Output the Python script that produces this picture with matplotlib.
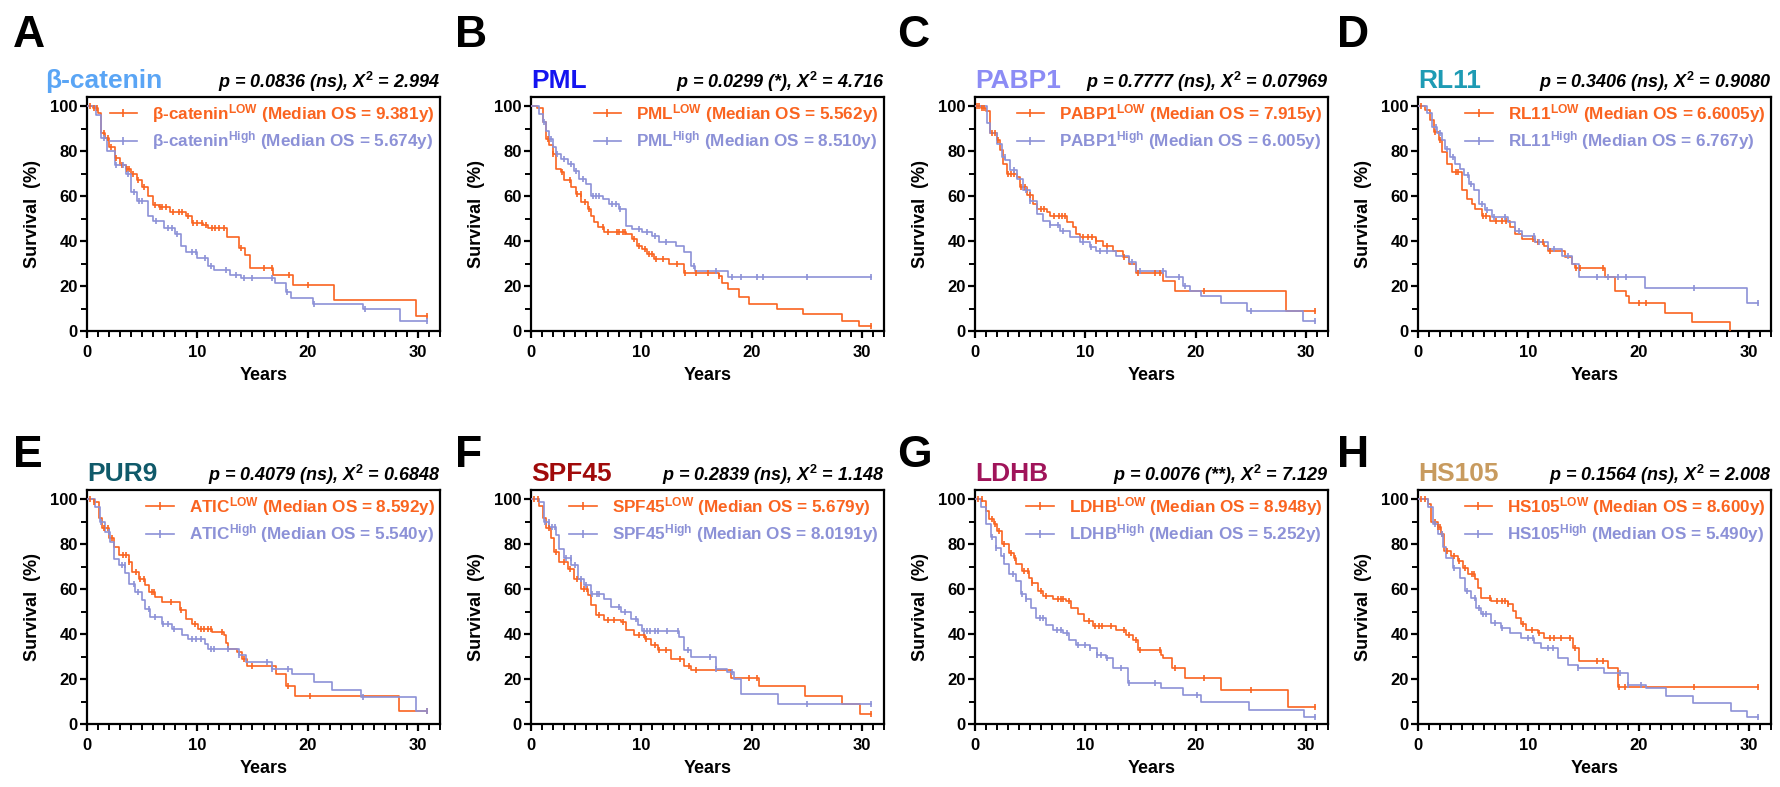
import matplotlib
matplotlib.use('Agg')
import matplotlib.pyplot as plt
import numpy as np
from matplotlib.lines import Line2D
from matplotlib.ticker import MultipleLocator

plt.rcParams['font.family'] = ['Liberation Sans', 'DejaVu Sans']
plt.rcParams['font.weight'] = 'bold'
plt.rcParams['axes.labelweight'] = 'bold'
plt.rcParams['mathtext.fontset'] = 'custom'
plt.rcParams['mathtext.rm'] = 'Liberation Sans:bold'
plt.rcParams['mathtext.bf'] = 'Liberation Sans:bold'
plt.rcParams['mathtext.it'] = 'Liberation Sans:bold:italic'

# ---------------- data ----------------
letters = ["A", "B", "C", "D", "E", "F", "G", "H"]
genes = ["β-catenin", "PML", "PABP1", "RL11", "PUR9", "SPF45", "LDHB", "HS105"]
legend_names = ["β-catenin", "PML", "PABP1", "RL11", "ATIC", "SPF45", "LDHB", "HS105"]
median_low = ["9.381", "5.562", "7.915", "6.6005", "8.592", "5.679", "8.948", "8.600"]
median_high = ["5.674", "8.510", "6.005", "6.767", "5.540", "8.0191", "5.252", "5.490"]
p_values = ["0.0836", "0.0299", "0.7777", "0.3406", "0.4079", "0.2839", "0.0076", "0.1564"]
p_signif = ["ns", "*", "ns", "ns", "ns", "ns", "**", "ns"]
chi2_values = ["2.994", "4.716", "0.07969", "0.9080", "0.6848", "1.148", "7.129", "2.008"]
end_low = [30.8, 30.8, 30.8, 28.3, 30.8, 30.8, 30.8, 30.8]
end_high = [30.8, 30.8, 30.8, 30.8, 30.8, 30.8, 30.8, 30.8]

A_low_t = [0, 0.5, 1.0, 1.3, 1.6, 2.0, 2.5, 3.0, 3.5, 4.0, 4.5, 5.0, 5.5, 6.0, 6.5, 7.5, 9.0, 9.5, 10.5, 11.0, 12.7, 13.8, 14.3, 14.8, 16.9, 18.7, 22.4, 29.8]
A_low_s = [100, 99, 97, 88, 86, 82, 77, 74, 72, 70, 67, 64, 60, 56, 55, 53, 51, 48, 47, 46, 42, 37, 34, 28, 25, 20.5, 13.6, 6.8]
A_high_t = [0, 0.8, 1.3, 1.8, 2.5, 3.5, 4.0, 4.5, 5.5, 6.0, 7.0, 8.0, 8.5, 9.0, 10.0, 11.0, 11.5, 13.0, 14.0, 17.0, 18.0, 18.5, 20.5, 25.0, 28.4]
A_high_s = [100, 96, 86, 80, 74, 70, 62, 58, 51, 49, 46, 43, 38, 35, 32.6, 29, 27, 25, 23.4, 21.2, 17.5, 14.5, 12, 9.6, 4.6]
A_low_c = [0.3, 0.6, 0.9, 1.5, 1.9, 2.2, 2.6, 3.2, 3.6, 3.8, 4.2, 4.6, 5.2, 6.2, 6.6, 6.8, 7.2, 7.8, 8.3, 8.6, 9.2, 9.6, 10.0, 10.4, 10.8, 11.3, 11.6, 12.0, 12.4, 14.0, 16.0, 16.8, 18.3, 20.0, 30.8]
A_high_c = [1.5, 2.6, 3.3, 3.7, 4.3, 4.7, 5.0, 6.3, 7.3, 7.7, 8.2, 9.5, 9.9, 10.7, 11.2, 12.6, 13.5, 14.2, 15.0, 16.8, 18.1, 20.6, 25.2, 30.8]

B_low_t = [0, 0.5, 1.06, 1.36, 1.66, 1.96, 2.26, 2.71, 3.02, 3.62, 4.07, 4.52, 5.13, 5.43, 5.73, 6.03, 6.63, 8.6, 9.2, 9.65, 10.1, 10.56, 11.16, 12.5, 13.9, 17.0, 17.3, 17.9, 18.85, 19.76, 22.3, 24.7, 28.2, 29.7]
B_low_s = [100, 99, 92.9, 85.4, 82.5, 78.8, 72.1, 70.6, 66.9, 63.9, 60.9, 57.2, 54.2, 51.3, 48.3, 46.1, 44, 43, 40.9, 37.9, 36.4, 34.2, 31.9, 29.7, 26, 24.5, 21.5, 18.6, 14.9, 11.9, 9.7, 7.4, 4.5, 2.2]
B_high_t = [0, 0.75, 1.06, 1.36, 1.66, 1.96, 2.26, 2.71, 3.32, 3.92, 4.37, 4.98, 5.43, 6.49, 7.09, 7.99, 8.6, 9.2, 10.1, 11.0, 11.6, 13.1, 13.9, 14.5, 14.9, 17.9]
B_high_s = [100, 96.6, 92.9, 89.1, 85.4, 81.7, 78.8, 76.5, 74.3, 71.3, 67.6, 65.4, 60.2, 58.7, 56.5, 54.2, 46.8, 45.3, 43.8, 42.3, 39.4, 37.9, 34.9, 29, 26.7, 23.8]
B_low_c = [1.5, 2.0, 2.8, 3.5, 4.2, 4.5, 4.9, 5.3, 6.5, 7.0, 7.8, 8.0, 8.3, 8.5, 9.3, 9.8, 10.3, 10.7, 11.0, 11.3, 12.0, 13.2, 14.0, 15.0, 16.0, 17.0, 30.8]
B_high_c = [1.2, 1.8, 2.4, 3.0, 3.6, 4.1, 4.7, 5.6, 5.9, 6.2, 7.3, 7.7, 8.1, 9.8, 10.5, 11.2, 12.2, 14.8, 16.8, 18.2, 19.0, 20.5, 21.0, 25.0, 30.8]

C_low_t = [0, 0.5, 1.0, 1.36, 1.96, 2.26, 2.56, 2.87, 3.77, 4.07, 4.68, 5.28, 5.58, 6.49, 6.79, 8.3, 8.9, 9.2, 9.5, 11.0, 11.6, 12.5, 13.4, 14.0, 14.6, 17.0, 18.1, 28.2]
C_low_s = [100, 99, 98, 87.8, 84.8, 80.4, 74.4, 69.9, 68.5, 64, 60.3, 56.5, 54.3, 52.8, 51.3, 48.5, 46.1, 43.2, 41.7, 40.2, 37.9, 35.7, 32.7, 29.8, 26, 22.3, 17.9, 8.9]
C_high_t = [0, 1.06, 1.36, 1.96, 2.41, 2.71, 3.17, 3.77, 4.37, 4.98, 5.58, 6.18, 6.79, 7.69, 8.6, 9.5, 10.4, 11.0, 12.8, 14.0, 14.6, 17.3, 18.85, 19.45, 20.5, 22.3, 24.7, 29.7]
C_high_s = [100, 92.3, 87.8, 83.3, 77.4, 75.9, 71.4, 67.7, 62.5, 58, 52.1, 49.1, 46.9, 44.6, 41.7, 39.4, 37.2, 35.7, 33.5, 30.5, 26.8, 23.8, 20.1, 17.9, 15.6, 12.6, 8.9, 4.5]
C_low_c = [0.2, 0.4, 0.6, 0.8, 1.5, 1.8, 2.1, 3.0, 3.3, 3.5, 4.2, 4.5, 5.0, 6.0, 6.3, 7.2, 7.6, 7.9, 8.2, 9.8, 10.2, 10.6, 11.0, 12.0, 13.5, 14.8, 16.3, 16.8, 20.8, 30.8]
C_high_c = [2.7, 3.5, 4.6, 5.0, 6.8, 7.5, 8.0, 9.8, 10.5, 11.3, 12.0, 14.2, 15.0, 17.0, 18.5, 19.0, 25.0, 30.8]

D_low_t = [0, 0.66, 1.12, 1.42, 1.87, 2.18, 2.63, 3.08, 3.99, 4.44, 4.89, 5.2, 5.8, 6.56, 8.37, 8.82, 9.43, 10.6, 11.4, 11.8, 13.35, 13.96, 14.26, 16.98, 17.9, 18.9, 19.1, 22.4, 24.8, 28.3]
D_low_s = [100, 98.2, 94, 88.5, 84.8, 79.6, 74.4, 70.7, 62.5, 58.8, 56.5, 54.3, 51.3, 49.1, 46.1, 43.2, 40.9, 39.4, 37.9, 35.7, 32.7, 29.8, 28, 23.8, 17.9, 15.6, 12.6, 8.2, 4.2, 0]
D_high_t = [0, 0.82, 1.27, 1.72, 2.18, 2.48, 2.93, 3.38, 3.84, 4.14, 4.59, 5.05, 5.5, 6.1, 6.7, 8.2, 8.8, 9.4, 10.6, 11.8, 13.05, 13.96, 14.56, 20.6, 29.8]
D_high_s = [100, 96.7, 90.8, 87.8, 84.8, 81.1, 77.4, 74.4, 72.2, 69.2, 65.5, 62.5, 56.5, 53.6, 50.6, 48.4, 44.6, 42.4, 39.4, 36.5, 33.5, 29.8, 23.8, 19, 12.6]
D_low_c = [0.3, 1.5, 2.0, 3.4, 3.6, 5.9, 6.2, 7.1, 7.6, 8.0, 10.4, 10.9, 11.3, 12.0, 14.3, 14.7, 16.8, 20.0, 20.7]
D_high_c = [1.6, 2.0, 2.6, 3.2, 4.5, 4.8, 5.8, 6.3, 6.9, 7.9, 9.2, 10.5, 11.0, 12.3, 13.6, 16.2, 17.2, 18.1, 18.9, 25.0, 30.8]

E_low_t = [0, 0.6, 1.06, 1.36, 1.97, 2.42, 2.87, 3.78, 4.08, 4.69, 5.3, 5.6, 6.2, 6.8, 8.47, 8.93, 9.53, 10.1, 11.35, 12.4, 12.6, 12.8, 13.6, 14.07, 14.5, 17.1, 18.0, 18.9, 28.3]
E_low_s = [100, 98.8, 91.4, 86.9, 82.5, 78.8, 75, 72, 67.6, 64.6, 61.7, 58.7, 56.5, 54.2, 50.5, 46.8, 44.6, 42.3, 40.9, 39.4, 36, 33.4, 31.9, 29, 26, 22.3, 17.1, 12.6, 5.9]
E_high_t = [0, 0.76, 1.21, 1.66, 2.12, 2.42, 2.87, 3.48, 3.78, 4.39, 4.99, 5.3, 5.75, 6.8, 7.7, 8.6, 9.2, 10.7, 11.0, 13.8, 14.4, 16.8, 18.6, 20.6, 22.2, 24.8, 29.8]
E_high_s = [100, 96.3, 89.9, 85.4, 81, 73.5, 70.5, 66.9, 62.4, 58.7, 55, 51.3, 47.5, 44.6, 42.3, 39.4, 37.9, 35.7, 33.4, 30.5, 27.5, 24.5, 22.3, 18.6, 14.9, 11.9, 5.9]
E_low_c = [0.3, 0.6, 1.5, 1.9, 2.3, 3.3, 3.5, 3.8, 4.4, 4.8, 5.2, 5.9, 6.1, 7.6, 8.5, 9.8, 10.3, 10.6, 11.0, 11.2, 12.2, 14.2, 15.0, 18.2, 20.2, 30.8]
E_high_c = [1.3, 2.0, 3.2, 3.4, 4.3, 4.6, 5.6, 6.2, 6.9, 7.3, 7.9, 9.5, 9.9, 10.3, 11.2, 11.5, 12.8, 13.8, 16.3, 16.8, 18.2, 25.0, 30.8]

F_low_t = [0, 0.76, 1.06, 1.36, 1.81, 2.11, 2.57, 3.32, 3.93, 4.53, 5.14, 5.44, 5.89, 6.65, 8.16, 8.6, 9.37, 10.3, 10.9, 11.5, 12.7, 13.9, 14.5, 18.1, 20.7, 24.8, 28.2, 29.8]
F_low_s = [100, 97, 91.4, 86.9, 82.5, 76.5, 72, 69.1, 64.6, 60.2, 57.2, 52.7, 48.3, 46.1, 45.3, 41.6, 39.4, 37.9, 34.9, 32.7, 29, 26, 23.8, 20.4, 17.1, 12.6, 8.9, 4.5]
F_high_t = [0, 0.76, 1.21, 1.66, 2.27, 2.57, 3.02, 3.63, 4.23, 4.83, 5.44, 6.65, 7.25, 8.16, 9.06, 9.67, 10.1, 13.4, 13.9, 14.5, 16.8, 17.8, 18.4, 19.0, 22.4]
F_high_s = [100, 98.5, 89.9, 87.7, 84, 78, 73.6, 70.6, 64.6, 61.7, 57.9, 55.7, 52, 49.8, 46.8, 44, 41.2, 38.5, 32.7, 29.7, 24.5, 23, 20, 13.4, 8.9]
F_low_c = [0.3, 0.6, 1.6, 2.3, 3.0, 3.5, 4.2, 4.8, 5.1, 6.2, 7.0, 7.5, 8.3, 9.8, 10.2, 10.4, 11.2, 11.6, 12.2, 13.5, 14.3, 15.0, 19.8, 20.5, 30.8]
F_high_c = [1.3, 1.6, 1.9, 2.2, 3.2, 3.6, 4.0, 4.5, 5.0, 5.5, 6.0, 6.2, 8.0, 8.5, 9.5, 10.2, 10.5, 10.8, 11.2, 11.5, 12.3, 13.3, 14.2, 16.2, 16.8, 18.2, 25.0, 30.8]

G_low_t = [0, 0.67, 0.97, 1.27, 1.73, 2.03, 2.48, 3.09, 3.55, 3.7, 4.3, 4.9, 5.2, 5.67, 6.12, 7.03, 8.24, 8.7, 9.3, 9.9, 10.67, 12.8, 13.7, 14.3, 14.76, 16.9, 17.03, 17.9, 19.0, 22.3, 28.4]
G_low_s = [100, 99.3, 94.8, 91.1, 88.8, 85.9, 79.9, 76.2, 73.9, 70.9, 67.9, 65, 62.8, 59, 56.8, 55.4, 54.6, 51.6, 48.7, 45.7, 43.5, 42, 39.7, 37.5, 33, 30.8, 29.3, 24.9, 20.4, 15.2, 7.7]
G_high_t = [0, 0.5, 0.97, 1.42, 1.88, 2.33, 2.64, 3.09, 3.7, 4.15, 4.6, 5.06, 5.5, 6.4, 7.03, 7.94, 8.55, 9.15, 10.4, 11.1, 11.9, 12.5, 13.85, 16.9, 18.85, 20.5, 24.8, 29.8]
G_high_s = [100, 96.3, 88.8, 82.9, 78.4, 74.7, 71, 66.5, 63.5, 57.6, 55.4, 51.6, 47.2, 44.2, 42, 40.5, 37.5, 35.3, 33.8, 30.8, 29.3, 24.9, 18.2, 15.9, 12.9, 10, 6.3, 3.3]
G_low_c = [0.3, 0.6, 1.5, 1.8, 2.2, 2.6, 3.3, 3.6, 4.4, 4.8, 5.2, 6.0, 6.4, 7.5, 7.8, 8.0, 8.5, 10.3, 10.9, 11.2, 11.5, 12.3, 13.5, 14.0, 14.6, 15.0, 16.8, 18.1, 20.8, 25.0, 30.8]
G_high_c = [1.5, 1.9, 2.6, 3.4, 4.3, 4.6, 5.9, 6.2, 7.4, 7.8, 8.3, 9.3, 10.0, 10.4, 11.1, 11.4, 12.0, 13.2, 14.0, 16.3, 20.1, 30.8]

H_low_t = [0, 0.9, 1.2, 1.8, 2.1, 2.4, 3.0, 3.6, 4.07, 4.52, 5.13, 5.43, 5.73, 6.64, 8.14, 8.6, 8.9, 9.35, 9.8, 10.86, 11.46, 14.03, 14.6, 17.2, 18.1]
H_low_s = [100, 97.8, 89.6, 87.4, 84.4, 77, 74.7, 72.5, 69.5, 66.6, 64.3, 60.6, 56.2, 54.7, 53.2, 50.2, 47.3, 44.3, 42, 40.6, 38.3, 33.9, 27.9, 25, 16.5]
H_high_t = [0, 0.9, 1.36, 1.8, 2.26, 2.56, 3.17, 3.77, 4.22, 4.83, 5.28, 5.73, 6.64, 7.54, 8.3, 9.35, 10.56, 11.16, 12.67, 13.57, 14.48, 16.9, 19.0, 20.66, 22.47, 24.9, 28.36, 29.86]
H_high_s = [100, 96.3, 88.9, 84.4, 78.5, 74, 69.5, 65.1, 59.1, 56.2, 51.7, 48.7, 45, 42.8, 40.6, 38.3, 36.1, 33.9, 29.4, 26.4, 25, 22.7, 17.5, 16, 12.3, 9.4, 5.9, 3]
H_low_c = [0.3, 0.6, 1.5, 1.8, 2.0, 2.2, 2.6, 3.3, 3.7, 4.3, 4.9, 5.1, 6.5, 7.2, 7.6, 7.9, 8.2, 9.5, 10.3, 11.0, 12.0, 12.3, 13.0, 13.8, 14.2, 16.2, 16.8, 18.2, 18.8, 25.0, 30.8]
H_high_c = [1.5, 2.2, 3.3, 4.4, 5.2, 5.5, 5.9, 6.2, 7.0, 7.6, 10.0, 10.4, 11.8, 12.2, 14.5, 18.3, 19.0, 20.2, 30.8]

low_t = [A_low_t, B_low_t, C_low_t, D_low_t, E_low_t, F_low_t, G_low_t, H_low_t]
low_s = [A_low_s, B_low_s, C_low_s, D_low_s, E_low_s, F_low_s, G_low_s, H_low_s]
low_c = [A_low_c, B_low_c, C_low_c, D_low_c, E_low_c, F_low_c, G_low_c, H_low_c]
high_t = [A_high_t, B_high_t, C_high_t, D_high_t, E_high_t, F_high_t, G_high_t, H_high_t]
high_s = [A_high_s, B_high_s, C_high_s, D_high_s, E_high_s, F_high_s, G_high_s, H_high_s]
high_c = [A_high_c, B_high_c, C_high_c, D_high_c, E_high_c, F_high_c, G_high_c, H_high_c]

# ---------------- styling ----------------
ORANGE = '#FA6420'
LAV = '#8C91D7'
title_colors = ['#5AA5F5', '#1414F0', '#8C8CF5', '#1E9BB4', '#105A6A', '#A00A0A', '#A0145A', '#C89B5F']

W, H = 1780, 787
fig = plt.figure(figsize=(W / 100, H / 100), dpi=100)

col_left = [87, 531, 975, 1418]
row_top = [97, 490]
ax_w, ax_h = 353, 234
letter_x = [13, 455, 897, 1337]
letter_base = [47, 467]
title_dx = [-42, 0, 0, 0, 0, 0, 0, 0]


def km(ax, t, s, end, cens, color):
    tt = np.asarray(list(t) + [end], dtype=float)
    ss = np.asarray(list(s) + [s[-1]], dtype=float)
    ax.plot(tt, ss, drawstyle='steps-post', color=color, lw=1.2, zorder=3)
    c = np.asarray(cens, dtype=float)
    idx = np.searchsorted(tt, c, side='right') - 1
    idx = np.clip(idx, 0, len(ss) - 1)
    ax.plot(c, ss[idx], ls='none', marker='|', ms=5, mew=1.2, color=color, zorder=4)


for i in range(8):
    r, c = divmod(i, 4)
    ax = fig.add_axes([col_left[c] / W, 1 - (row_top[r] + ax_h) / H, ax_w / W, ax_h / H])
    km(ax, low_t[i], low_s[i], end_low[i], low_c[i], ORANGE)
    km(ax, high_t[i], high_s[i], end_high[i], high_c[i], LAV)

    ax.set_xlim(0, 32)
    ax.set_ylim(0, 104)
    ax.xaxis.set_major_locator(MultipleLocator(10))
    ax.xaxis.set_minor_locator(MultipleLocator(1))
    ax.yaxis.set_major_locator(MultipleLocator(20))
    ax.yaxis.set_minor_locator(MultipleLocator(10))
    for sp in ax.spines.values():
        sp.set_linewidth(1.6)
    ax.tick_params(axis='both', which='major', length=5, width=1.6, labelsize=12)
    ax.tick_params(axis='both', which='minor', length=4, width=1.4)
    ax.tick_params(axis='y', which='major', pad=1.5)
    ax.tick_params(axis='x', which='major', pad=5)
    ax.set_xlabel('Years', fontsize=13, labelpad=5)
    ax.set_ylabel('Survival  (%)', fontsize=13, labelpad=7)

    handles = [Line2D([0], [0], color=ORANGE, lw=1.2, marker='|', ms=6, mew=1.2),
               Line2D([0], [0], color=LAV, lw=1.2, marker='|', ms=6, mew=1.2)]
    labels = [legend_names[i] + r'$^{\mathbf{LOW}}$' + f' (Median OS = {median_low[i]}y)',
              legend_names[i] + r'$^{\mathbf{High}}$' + f' (Median OS = {median_high[i]}y)']
    leg = ax.legend(handles, labels, loc='upper right', frameon=False,
                    prop={'weight': 'bold', 'size': 12.3}, handlelength=1.6,
                    handletextpad=0.9, borderaxespad=0.1, borderpad=0.2,
                    labelspacing=0.25, numpoints=1)
    for txt, colr in zip(leg.get_texts(), [ORANGE, LAV]):
        txt.set_color(colr)

    ax.text(title_dx[i] / ax_w, 1 + 9 / ax_h, genes[i], transform=ax.transAxes,
            ha='left', va='baseline', fontsize=19, fontweight='bold', color=title_colors[i])
    ax.text(1.0, 1 + 9 / ax_h,
            f'p = {p_values[i]} ({p_signif[i]}), X' + r'$^{\mathbf{2}}$' + f' = {chi2_values[i]}',
            transform=ax.transAxes, ha='right', va='baseline', fontsize=13,
            fontweight='bold', fontstyle='italic', color='black')

    fig.text(letter_x[c] / W, 1 - letter_base[r] / H, letters[i], ha='left', va='baseline',
             fontsize=32, fontweight='bold', color='black')

fig.savefig('out.png', dpi=100)
